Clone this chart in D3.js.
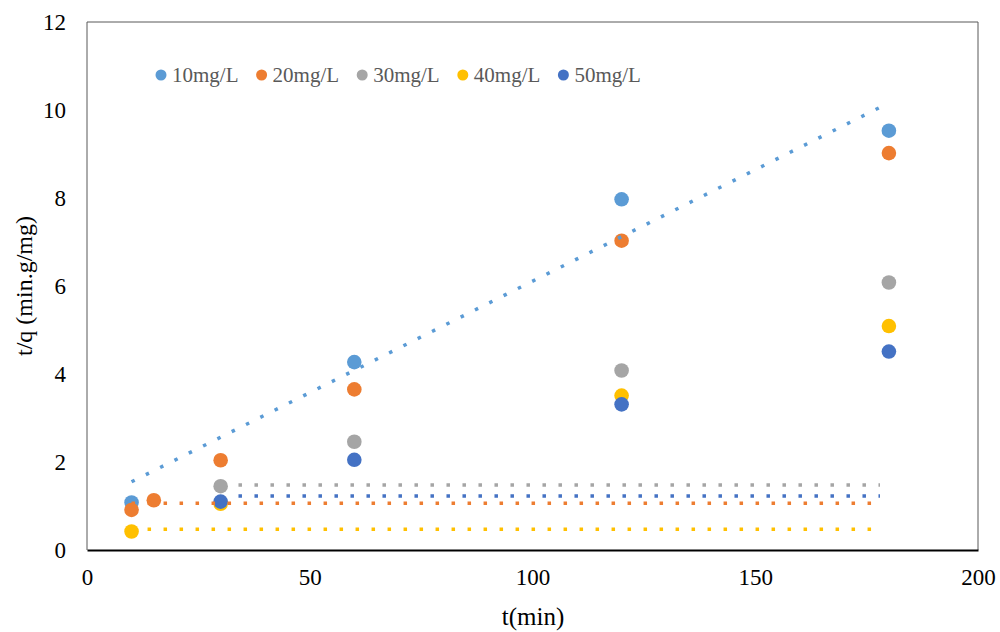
<!DOCTYPE html>
<html><head><meta charset="utf-8">
<script src="https://cdn.jsdelivr.net/npm/d3@7"></script>
<style>body{margin:0;background:#fff}svg{display:block}</style>
</head><body><svg id="c" width="1000" height="632"></svg>
<script>
const seriesNames = ["10mg/L","20mg/L","30mg/L","40mg/L","50mg/L"];
const seriesColors = ["#5B9BD5","#ED7D31","#A5A5A5","#FFC000","#4472C4"];
const pts10 = [[10,1.08],[60,4.27],[120,7.97],[180,9.53]];
const pts20 = [[10,0.91],[15,1.13],[30,2.04],[60,3.65],[120,7.03],[180,9.02]];
const pts30 = [[30,1.45],[60,2.46],[120,4.08],[180,6.08]];
const pts40 = [[10,0.42],[30,1.05],[120,3.51],[180,5.09]];
const pts50 = [[30,1.10],[60,2.05],[120,3.31],[180,4.51]];
// trend lines: [x1,y1,x2,y2]
const trend10 = [10,1.55,178,10.06];
const trend20 = [10,1.06,178,1.06];
const trend30 = [34,1.48,178,1.48];
const trend40 = [10,0.47,178,0.47];
const trend50 = [34,1.23,178,1.23];
const xTicks = [0,50,100,150,200];
const yTicks = [0,2,4,6,8,10,12];

const allPts = [pts10,pts20,pts30,pts40,pts50];
const allTrends = [trend10,trend20,trend30,trend40,trend50];

const svg = d3.select("#c");
const L=87, R=978, T=22, B=550;
const x = d3.scaleLinear().domain([0,200]).range([L,R]);
const y = d3.scaleLinear().domain([0,12]).range([B,T]);
const font = "'Liberation Serif','Times New Roman',serif";

// frame
svg.append("line").attr("x1",L).attr("x2",R).attr("y1",T).attr("y2",T).attr("stroke","#595959").attr("stroke-width",1);
svg.append("line").attr("x1",R).attr("x2",R).attr("y1",T).attr("y2",B).attr("stroke","#595959").attr("stroke-width",1);
svg.append("line").attr("x1",L).attr("x2",L).attr("y1",T).attr("y2",B).attr("stroke","#595959").attr("stroke-width",1);

// axes
const xAxis = svg.append("g").attr("transform",`translate(0,${B})`)
  .call(d3.axisBottom(x).tickValues(xTicks).tickSize(0).tickPadding(19));
xAxis.select(".domain").attr("stroke","#000").attr("stroke-width",2);
xAxis.selectAll("text").attr("font-family",font).attr("font-size",23).attr("fill","#000");
const yAxis = svg.append("g").attr("transform",`translate(${L},0)`)
  .call(d3.axisLeft(y).tickValues(yTicks).tickSize(0).tickPadding(21));
yAxis.select(".domain").remove();
yAxis.selectAll("text").attr("font-family",font).attr("font-size",23).attr("fill","#000");

// points
allPts.forEach((pts,i)=>{
  svg.append("g").selectAll("circle").data(pts).join("circle")
    .attr("cx",d=>x(d[0])).attr("cy",d=>y(d[1])).attr("r",7.3)
    .attr("fill",seriesColors[i]);
});
// trendlines
allTrends.forEach((t,i)=>{
  svg.append("line").attr("x1",x(t[0])).attr("y1",y(t[1])).attr("x2",x(t[2])).attr("y2",y(t[3]))
    .attr("stroke",seriesColors[i]).attr("stroke-width",3.5).attr("stroke-dasharray","3.5 12.5");
});

// legend
const lg = svg.append("g");
seriesNames.forEach((n,i)=>{
  const lx = 161 + i*100.6;
  lg.append("circle").attr("cx",lx).attr("cy",75).attr("r",5.5).attr("fill",seriesColors[i]);
  lg.append("text").attr("x",lx+11).attr("y",82).text(n)
    .attr("font-family",font).attr("font-size",21).attr("fill","#595959");
});

// titles
svg.append("text").attr("x",(L+R)/2+0.5).attr("y",625).attr("text-anchor","middle")
  .attr("font-family",font).attr("font-size",25).text("t(min)");
svg.append("text").attr("transform",`translate(32,${(T+B)/2}) rotate(-90)`).attr("text-anchor","middle")
  .attr("font-family",font).attr("font-size",24).text("t/q (min.g/mg)");
</script></body></html>
